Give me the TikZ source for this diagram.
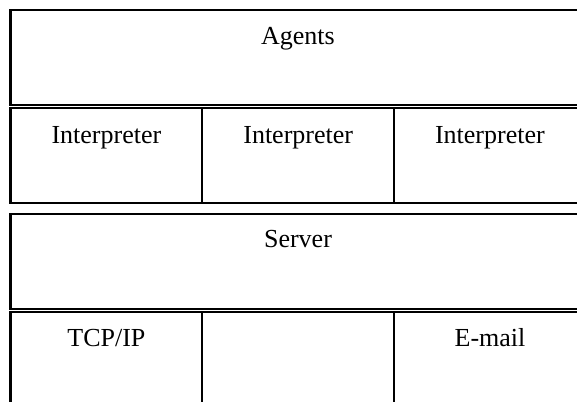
\documentclass[tikz,border=0pt]{standalone}
\usepackage{fontspec}
\setmainfont{Liberation Serif}
\usepackage{tikz}

\begin{document}
\begin{tikzpicture}[x=0.5pt, y=-0.5pt, line width=1.1pt,
    lbl/.style={anchor=base, font=\fontsize{13}{15}\selectfont}]
    % Page area, the layers run on past its right and bottom edge
    \useasboundingbox (0,0) rectangle (577,401);
    \clip (0,0) rectangle (577,401);
    \fill[white] (0,0) rectangle (577,401);

    % Agents layer
    \draw (10.5,10) rectangle (586,105);
    \node[lbl] (agents) at (298,44.5) {Agents};

    % One interpreter per column
    \foreach \x [count=\i] in {10.5,202.3,394} {
        \draw (\x,107.7) rectangle ++(191.8,95.3);
        \node[lbl] (interp\i) at (\x+95.9,143) {Interpreter};
    }

    % Server layer
    \draw (10.5,213.7) rectangle (586,309.3);
    \node[lbl] (server) at (298,247.5) {Server};

    % Transport row
    \foreach \x in {10.5,202.3,394}
        \draw (\x,311.7) rectangle ++(191.8,110);
    \node[lbl] (tcp) at (106.4,346.5) {TCP/IP};
    \node[lbl] (email) at (490,346.5) {E-mail};
\end{tikzpicture}
\end{document}
